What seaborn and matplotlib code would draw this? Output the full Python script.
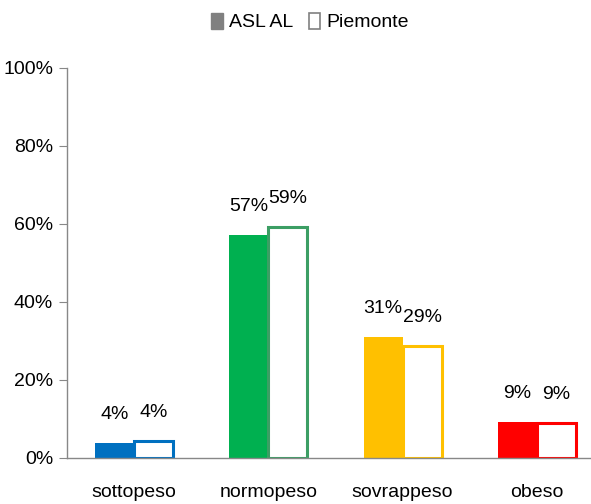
import seaborn as sns
import matplotlib.pyplot as plt
import pandas as pd
from matplotlib.patches import Patch

categories = ["sottopeso", "normopeso", "sovrappeso", "obeso"]
asl_al = [3.8, 57.2, 31.0, 9.2]
piemonte = [4.3, 59.2, 28.8, 9.0]
asl_labels = ["4%", "57%", "31%", "9%"]
piem_labels = ["4%", "59%", "29%", "9%"]
fill_colors = ["#0070C0", "#00B050", "#FFC000", "#FF0000"]
edge_colors = ["#0070C0", "#3C9E64", "#FFC000", "#FF0000"]

df = pd.DataFrame({
    "categoria": categories * 2,
    "valore": asl_al + piemonte,
    "area": ["ASL AL"] * 4 + ["Piemonte"] * 4,
})

sns.set_style("white")
plt.rcParams['font.family'] = ['Liberation Sans Narrow', 'Liberation Sans', 'DejaVu Sans']
plt.rcParams['text.color'] = 'black'
plt.rcParams['xtick.labelcolor'] = 'black'
plt.rcParams['ytick.labelcolor'] = 'black'

fig = plt.figure(figsize=(5.91, 5.04), dpi=100)
ax = fig.add_axes([67 / 591, 46 / 504, 537 / 591, 390 / 504])

sns.barplot(data=df, x="categoria", y="valore", hue="area", order=categories,
            width=0.58, dodge=True, gap=0, legend=False, ax=ax)

for bar, c in zip(ax.containers[0], fill_colors):
    bar.set_facecolor(c)
    bar.set_edgecolor(c)
    bar.set_linewidth(0)
for bar, c in zip(ax.containers[1], edge_colors):
    bar.set_facecolor("white")
    bar.set_edgecolor(c)
    bar.set_linewidth(2.2)

for cont, labs in ((ax.containers[0], asl_labels), (ax.containers[1], piem_labels)):
    for bar, lab in zip(cont, labs):
        ax.annotate(lab, (bar.get_x() + bar.get_width() / 2, bar.get_height()),
                    xytext=(0, 20), textcoords="offset pixels",
                    ha="center", va="bottom", fontsize=14, color="black")

ax.set_xlim(-0.5, 3.5)
ax.set_ylim(0, 100)
ax.set_yticks([0, 20, 40, 60, 80, 100])
ax.set_yticklabels(["0%", "20%", "40%", "60%", "80%", "100%"], fontsize=14)
ax.set_xticks(range(4))
ax.set_xticklabels(categories, fontsize=14)
ax.set_xticks([-0.5, 0.5, 1.5, 2.5, 3.5], minor=True)
ax.tick_params(axis="x", which="major", length=0, pad=19, labelcolor="black")
ax.tick_params(axis="x", which="minor", length=6, color="#888888", direction="out")
ax.tick_params(axis="y", length=6, color="#888888", direction="out", left=True, pad=4,
               labelcolor="black")
ax.set_xlabel("")
ax.set_ylabel("")

for s in ["top", "right"]:
    ax.spines[s].set_visible(False)
for s in ["left", "bottom"]:
    ax.spines[s].set_color("#888888")
    ax.spines[s].set_linewidth(1)

handles = [Patch(facecolor="#808080", edgecolor="#808080"),
           Patch(facecolor="white", edgecolor="#808080", linewidth=1.2)]
fig.legend(handles, ["ASL AL", "Piemonte"], loc="center", bbox_to_anchor=(310 / 591, 1 - 22 / 504),
           ncol=2, frameon=False, fontsize=14, handlelength=0.6, handleheight=0.9,
           handletextpad=0.3, columnspacing=0.8, labelcolor="black")

plt.savefig("out.png", dpi=100)
